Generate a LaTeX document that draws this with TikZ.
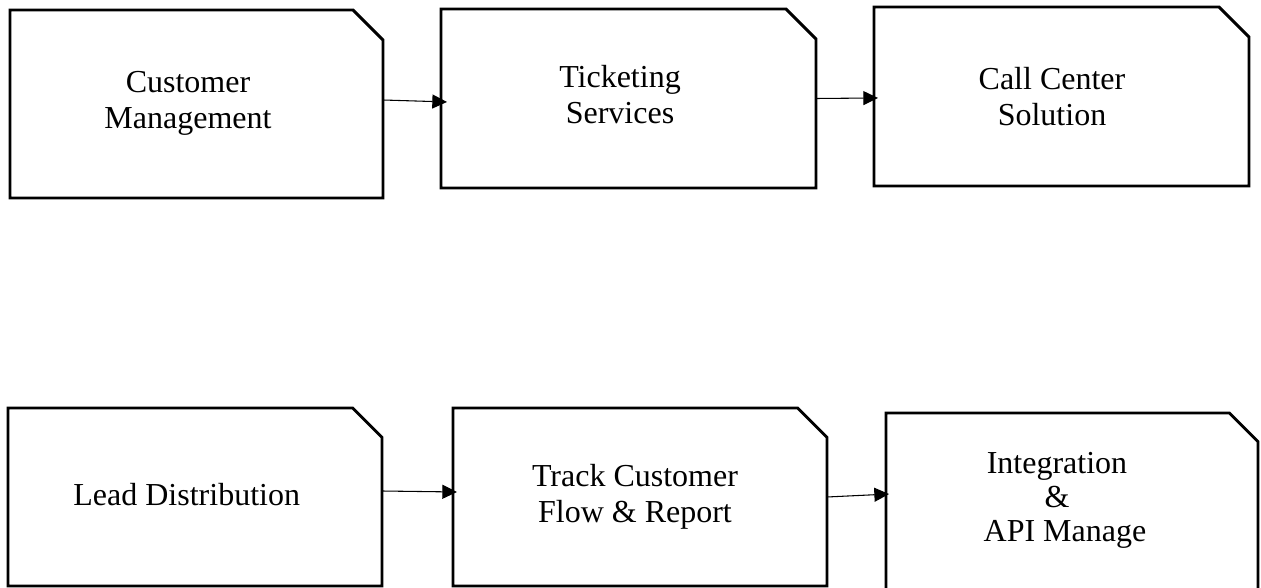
\documentclass[tikz,border=0pt]{standalone}
\usepackage{fontspec}
\setmainfont{Liberation Serif}
\usetikzlibrary{arrows.meta}
\tikzset{
  boxnode/.style={draw=none,rectangle,inner sep=0pt,outer sep=0pt},
  boxline/.style={draw=black,line width=2.2pt,line join=miter},
  txt/.style={inner sep=0pt,outer sep=0pt,align=center,font=\fontsize{24}{27}\selectfont},
  conn/.style={draw=black,line width=0.8pt,-{Triangle[length=11pt,width=10.5pt]}}
}
\newcommand\chbox[2]{\draw[boxline] (#1.south west) -- (#1.north west) -- ([xshift=-#2]#1.north east) -- ([yshift=-#2]#1.north east) -- (#1.south east) -- cycle;}
\begin{document}
\begin{tikzpicture}[x=0.75pt,y=-0.75pt]
\useasboundingbox (0,0) rectangle (1261,588);
% boxes
\node[boxnode,minimum width=373*0.75pt,minimum height=188*0.75pt] (b1) at (196.5,104) {};
\node[boxnode,minimum width=375*0.75pt,minimum height=179*0.75pt] (b2) at (628.5,98.5) {};
\node[boxnode,minimum width=375*0.75pt,minimum height=179*0.75pt] (b3) at (1061.5,96.5) {};
\node[boxnode,minimum width=374*0.75pt,minimum height=178*0.75pt] (b4) at (195,497) {};
\node[boxnode,minimum width=374*0.75pt,minimum height=178*0.75pt] (b5) at (640,497) {};
\node[boxnode,minimum width=372*0.75pt,minimum height=185*0.75pt] (b6) at (1072,505.5) {};
\chbox{b1}{22.5pt}
\chbox{b2}{22.5pt}
\chbox{b3}{22.5pt}
\chbox{b4}{22pt}
\chbox{b5}{22pt}
\chbox{b6}{21.5pt}
% texts
\node[txt] (t1) at (188,103.7) {Customer\\Management};
\node[txt] (t2) at (620,94.7) {Ticketing\\Services};
\node[txt] (t3) at (1052,97) {Call Center\\Solution};
\node[txt,anchor=base] (t4) at (186.7,505) {Lead Distribution};
\node[txt] (t5) at (635,497.2) {Track Customer\\Flow \& Report};
\node[txt,font=\fontsize{24}{25.5}\selectfont] (t6) at (1057,500.4) {Integration\\\&\\\hspace*{12pt}API Manage};
% connectors
\draw[conn] ([yshift=3pt]b1.east) -- ([xshift=4.5pt,yshift=-2.6pt]b2.west);
\draw[conn] (b2.east) -- ([xshift=3pt,yshift=-1.1pt]b3.west);
\draw[conn] ([yshift=4.5pt]b4.east) -- ([xshift=3pt,yshift=3.75pt]b5.west);
\draw[conn] (b5.east) -- ([xshift=2.25pt,yshift=8.6pt]b6.west);
\end{tikzpicture}
\end{document}
